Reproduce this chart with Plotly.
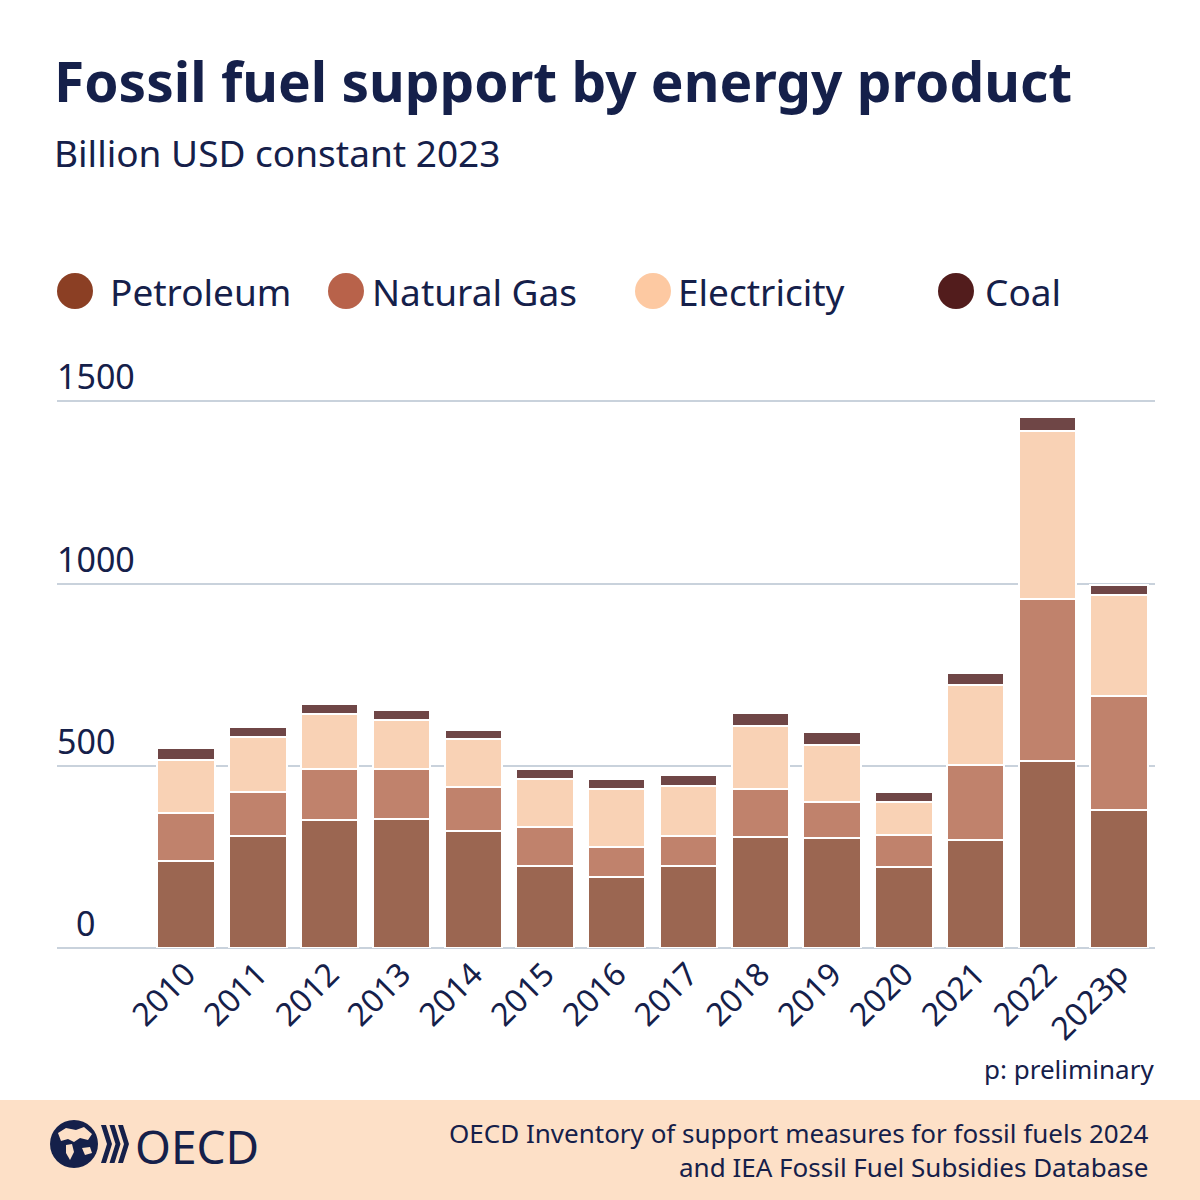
import plotly.graph_objects as go

years = ["2010", "2011", "2012", "2013", "2014", "2015", "2016", "2017",
         "2018", "2019", "2020", "2021", "2022", "2023p"]
petroleum = [240, 307, 350, 355, 322, 225, 195, 224, 304, 301, 223, 297, 514, 380]
natural_gas = [131, 121, 142, 135, 121, 108, 83, 83, 132, 101, 86, 206, 445, 312]
electricity = [146, 150, 151, 136, 131, 130, 159, 138, 174, 156, 91, 219, 460, 277]
coal = [32, 28, 27, 26, 25, 29, 28, 30, 35, 34, 28, 34, 39, 26]

series_names = ["Petroleum", "Natural Gas", "Electricity", "Coal"]
bar_colors = ["#9b6651", "#c0826c", "#f9d2b5", "#6f4646"]
legend_colors = ["#8b3f24", "#b8624a", "#fdc9a2", "#521c1c"]
y_ticks = [0, 500, 1000, 1500]

TXT = "#15204a"
FONT = "Noto Sans"

# plot area in pixels
YMAX = 1512
L, R, T, B = 57, 1155, 397, 948
W, H = R - L, B - T


def px(x):
    return (x - L) / W


def py(y):
    return (B - y) / H


fig = go.Figure()
for name, vals, col in zip(series_names, [petroleum, natural_gas, electricity, coal], bar_colors):
    fig.add_trace(go.Bar(
        x=years, y=vals, name=name,
        marker=dict(color=col, line=dict(color="white", width=2)),
        showlegend=False,
    ))

annotations = []
shapes = []

# title & subtitle
annotations.append(dict(text="<b>Fossil fuel support by energy product</b>", x=px(52), y=py(80),
                        xref="paper", yref="paper", xanchor="left", yanchor="middle",
                        showarrow=False, font=dict(family=FONT, size=55, color=TXT)))
annotations.append(dict(text="Billion USD constant 2023", x=px(52), y=py(153),
                        xref="paper", yref="paper", xanchor="left", yanchor="middle",
                        showarrow=False, font=dict(family=FONT, size=37, color=TXT)))

# legend
leg_cx = [75, 346, 653, 956]
leg_tx = [108, 370, 676, 983]
for name, col, cx, tx in zip(series_names, legend_colors, leg_cx, leg_tx):
    r = 18
    shapes.append(dict(type="circle", xref="paper", yref="paper",
                       x0=px(cx - r), x1=px(cx + r), y0=py(291 + r), y1=py(291 - r),
                       fillcolor=col, line=dict(width=0)))
    annotations.append(dict(text=name, x=px(tx), y=py(291), xref="paper", yref="paper",
                            xanchor="left", yanchor="middle", showarrow=False,
                            font=dict(family=FONT, size=37, color=TXT)))

# y tick labels
for v in y_ticks:
    xl = 74 if v == 0 else 55
    annotations.append(dict(text=str(v), x=px(xl), y=v, xref="paper", yref="y",
                            xanchor="left", yanchor="bottom", yshift=0, showarrow=False,
                            font=dict(family=FONT, size=34, color=TXT)))

# note
annotations.append(dict(text="p: preliminary", x=px(1156), y=py(1069), xref="paper", yref="paper",
                        xanchor="right", yanchor="middle", showarrow=False,
                        font=dict(family=FONT, size=26, color=TXT)))

# footer band
shapes.append(dict(type="rect", xref="paper", yref="paper", layer="below",
                   x0=px(0), x1=px(1200), y0=py(1200), y1=py(1100),
                   fillcolor="#fde0c7", line=dict(width=0)))
annotations.append(dict(text="OECD Inventory of support measures for fossil fuels 2024<br>and IEA Fossil Fuel Subsidies Database",
                        x=px(1151), y=py(1150), xref="paper", yref="paper",
                        xanchor="right", yanchor="middle", align="right", showarrow=False,
                        font=dict(family=FONT, size=26, color=TXT)))

# OECD logo
shapes.append(dict(type="circle", xref="paper", yref="paper",
                   x0=px(50), x1=px(98), y0=py(1168), y1=py(1120),
                   fillcolor="#15204a", line=dict(width=0)))
# rough white continents on the globe
blobs = [
    [(58, 1133), (66, 1128), (76, 1130), (84, 1127), (92, 1134), (88, 1140), (80, 1138), (74, 1142), (68, 1139), (61, 1141)],
    [(66, 1145), (72, 1144), (74, 1152), (70, 1160), (66, 1153)],
    [(82, 1148), (90, 1147), (92, 1153), (85, 1155)],
]
for blob in blobs:
    path = "M " + " L ".join(f"{px(a):.5f},{py(b):.5f}" for a, b in blob) + " Z"
    shapes.append(dict(type="path", xref="paper", yref="paper", path=path,
                       fillcolor="#fde0c7", line=dict(width=0)))
for i in range(3):
    x0 = 101 + 8.5 * i
    pts = [(x0, 1125), (x0 + 5, 1125), (x0 + 11, 1144), (x0 + 5, 1163), (x0, 1163), (x0 + 6, 1144)]
    path = "M " + " L ".join(f"{px(a):.5f},{py(b):.5f}" for a, b in pts) + " Z"
    shapes.append(dict(type="path", xref="paper", yref="paper", path=path,
                       fillcolor="#15204a", line=dict(width=0)))
annotations.append(dict(text="OECD", x=px(133), y=py(1146), xref="paper", yref="paper",
                        xanchor="left", yanchor="middle", showarrow=False,
                        font=dict(family=FONT, size=46, color=TXT)))

fig.update_layout(
    width=1200, height=1200,
    margin=dict(l=L, r=1200 - R, t=T, b=1200 - B, pad=0),
    paper_bgcolor="white", plot_bgcolor="white",
    barmode="stack", bargap=0.2,
    font=dict(family=FONT, color=TXT),
    xaxis=dict(type="category", range=[-1.8, 13.5], showgrid=False, zeroline=False,
               showline=False, ticks="", tickangle=-45,
               tickfont=dict(family=FONT, size=32, color=TXT)),
    yaxis=dict(range=[0, YMAX], tickvals=y_ticks, showticklabels=False,
               showgrid=True, gridcolor="#c9d2dc", gridwidth=1.5,
               zeroline=True, zerolinecolor="#c9d2dc", zerolinewidth=1.5, showline=False),
    annotations=annotations, shapes=shapes,
)

fig.write_html("out.html", config={"displayModeBar": False},
               post_script="document.body.style.margin='0px';")
